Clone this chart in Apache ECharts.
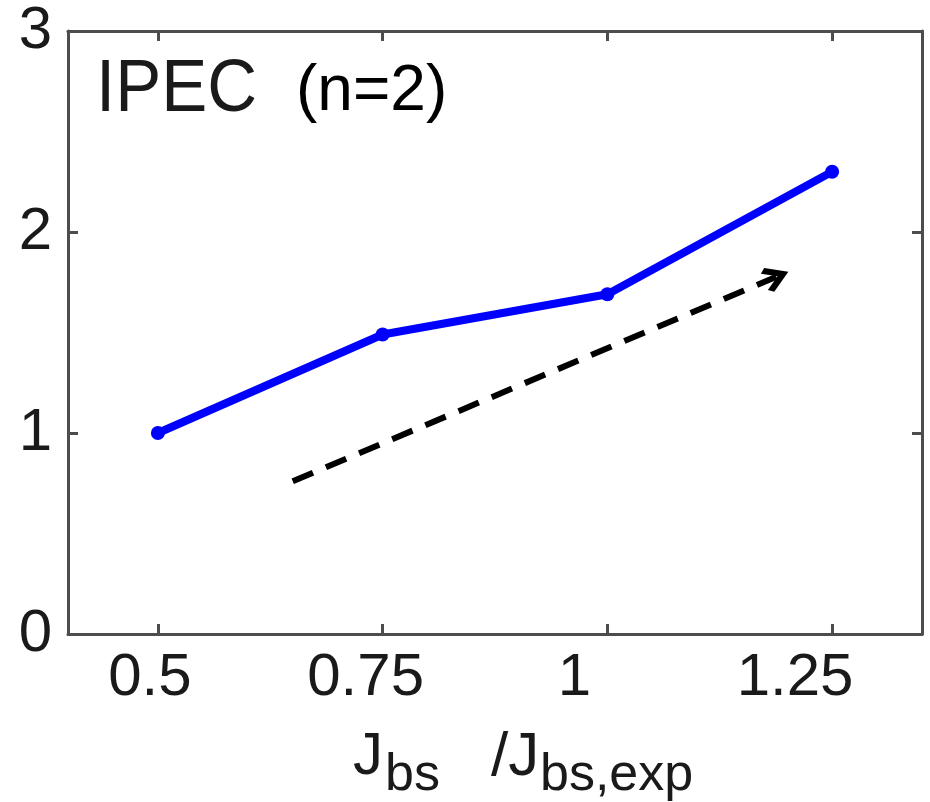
<!DOCTYPE html>
<html>
<head>
<meta charset="utf-8">
<script src="https://cdn.jsdelivr.net/npm/echarts@6/dist/echarts.min.js"></script>
<style>html,body{margin:0;padding:0;background:#fff}#c{width:930px;height:802px}</style>
</head>
<body>
<div id="c"></div>
<script>
// ---- data ----
const xValues = [0.5, 0.75, 1.0, 1.25];
const yValues = [1.0, 1.49, 1.69, 2.30];
const xTicks = [0.5, 0.75, 1, 1.25];
const yTicks = [0, 1, 2, 3];
const arrowStart = [0.65, 0.76];
const arrowEnd = [1.188, 1.777];
const panelLabel = 'IPEC';
const panelSub = '(n=2)';

const FONT = '"Liberation Sans", Arial, Helvetica, sans-serif';
const BOX = '#4d4d4d';
const TXT = '#1a1a1a';

const chart = echarts.init(document.getElementById('c'), null, {renderer: 'canvas'});

const chevron = 'path://M5,0 L10,8 L8.44,10 L5,4.5 L1.56,10 L0,8 Z';

// the reference's x tick labels sit slightly left of their ticks
const labelShift = [16, 34, 66, 74];
const rich = {};
labelShift.forEach((p, i) => {
  rich['s' + i] = {fontSize: 60, fontFamily: FONT, color: TXT, padding: [0, p, 0, 0]};
});

const baseAxis = {
  axisLine: {show: true, onZero: false, lineStyle: {color: BOX, width: 3}},
  axisTick: {show: true, inside: true, length: 10, lineStyle: {color: BOX, width: 3}},
  splitLine: {show: false}
};

const option = {
  animation: false,
  backgroundColor: '#fff',
  grid: {left: 68, right: 8, top: 31, bottom: 168, show: false},
  xAxis: [
    Object.assign({}, baseAxis, {
      type: 'value', min: 0.4, max: 1.35, position: 'bottom',
      axisTick: Object.assign({}, baseAxis.axisTick, {customValues: xTicks}),
      axisLabel: {customValues: xTicks, color: TXT, fontSize: 60, fontFamily: FONT, margin: 14,
        formatter: v => {
          const i = xTicks.findIndex(t => Math.abs(t - v) < 1e-9);
          return '{s' + (i < 0 ? 0 : i) + '|' + String(v) + '}';
        },
        rich: rich}
    }),
    Object.assign({}, baseAxis, {
      type: 'value', min: 0.4, max: 1.35, position: 'top',
      axisTick: Object.assign({}, baseAxis.axisTick, {customValues: xTicks}),
      axisLabel: {show: false}
    })
  ],
  yAxis: [
    Object.assign({}, baseAxis, {
      type: 'value', min: 0, max: 3, interval: 1, position: 'left',
      axisLabel: {color: TXT, fontSize: 60, fontFamily: FONT, margin: 16,
        customValues: yTicks, formatter: v => String(v)}
    }),
    Object.assign({}, baseAxis, {
      type: 'value', min: 0, max: 3, interval: 1, position: 'right',
      axisLabel: {show: false}
    })
  ],
  series: [
    {
      type: 'line',
      data: xValues.map((x, i) => [x, yValues[i]]),
      symbol: 'circle',
      symbolSize: 14,
      lineStyle: {color: '#0000ff', width: 8},
      itemStyle: {color: '#0000ff'},
      z: 3
    },
    {
      type: 'lines',
      coordinateSystem: 'cartesian2d',
      polyline: false,
      symbol: ['none', chevron],
      symbolSize: [30, 26],
      lineStyle: {color: '#000', width: 6, type: [22, 14], opacity: 1},
      itemStyle: {color: '#000'},
      data: [{coords: [arrowStart, arrowEnd]}],
      z: 2
    }
  ],
  graphic: [
    {type: 'text', left: 96, top: 53, scaleX: 0.92, style: {text: panelLabel, fontSize: 75, fontFamily: FONT, fill: TXT}},
    {type: 'text', left: 296, top: 60, style: {text: panelSub, fontSize: 64, fontFamily: FONT, fill: '#000'}},
    {type: 'text', left: 353, top: 727, style: {text: 'J', fontSize: 60, fontFamily: FONT, fill: TXT}},
    {type: 'text', left: 385, top: 750, style: {text: 'bs', fontSize: 52, fontFamily: FONT, fill: TXT}},
    {type: 'text', left: 491, top: 727, style: {text: '/J', fontSize: 62, fontFamily: FONT, fill: TXT}},
    {type: 'text', left: 540, top: 750, style: {text: 'bs,exp', fontSize: 52, fontFamily: FONT, fill: TXT}}
  ]
};
chart.setOption(option);
</script>
</body>
</html>
